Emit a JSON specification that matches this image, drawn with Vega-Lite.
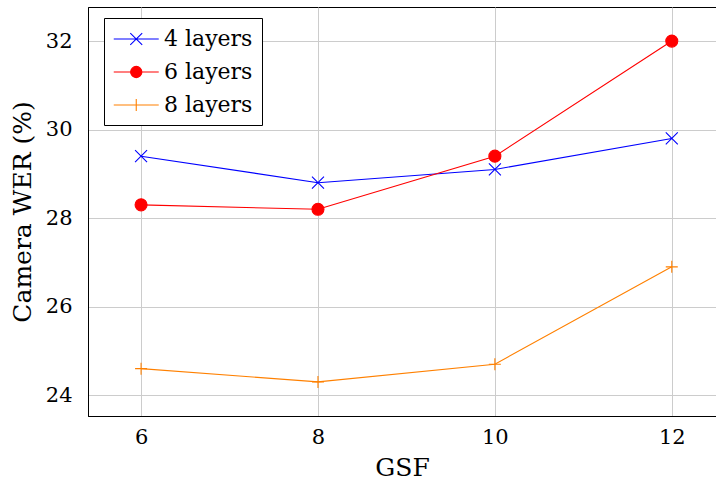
{
  "$schema": "https://vega.github.io/schema/vega-lite/v6.json",
  "width": 628,
  "height": 409,
  "autosize": {"type": "none"},
  "padding": {"left": 88, "top": 7, "right": 0, "bottom": 70},
  "background": "white",
  "config": {
    "view": {"stroke": "black", "strokeWidth": 1},
    "font": "DejaVu Serif",
    "axis": {
      "labelFont": "DejaVu Serif",
      "labelColor": "black",
      "labelFontSize": 21,
      "titleFont": "DejaVu Serif",
      "titleFontSize": 25,
      "titleFontWeight": "normal",
      "titleColor": "black",
      "domainColor": "black",
      "gridColor": "#cccccc",
      "gridWidth": 1,
      "gridOpacity": 1,
      "ticks": false
    },
    "legend": {
      "labelFont": "DejaVu Serif",
      "labelFontSize": 22,
      "labelColor": "black"
    }
  },
  "data": {
    "values": [
      {"series": "4 layers", "gsf": 6, "wer": 29.4},
      {"series": "4 layers", "gsf": 8, "wer": 28.8},
      {"series": "4 layers", "gsf": 10, "wer": 29.1},
      {"series": "4 layers", "gsf": 12, "wer": 29.8},
      {"series": "6 layers", "gsf": 6, "wer": 28.3},
      {"series": "6 layers", "gsf": 8, "wer": 28.2},
      {"series": "6 layers", "gsf": 10, "wer": 29.4},
      {"series": "6 layers", "gsf": 12, "wer": 32.0},
      {"series": "8 layers", "gsf": 6, "wer": 24.6},
      {"series": "8 layers", "gsf": 8, "wer": 24.3},
      {"series": "8 layers", "gsf": 10, "wer": 24.7},
      {"series": "8 layers", "gsf": 12, "wer": 26.9}
    ]
  },
  "encoding": {
    "x": {
      "field": "gsf",
      "type": "quantitative",
      "scale": {"domain": [5.4, 12.5], "nice": false, "zero": false},
      "axis": {"values": [6, 8, 10, 12], "title": "GSF", "labelPadding": 10, "titlePadding": 8, "grid": true}
    },
    "y": {
      "field": "wer",
      "type": "quantitative",
      "scale": {"domain": [23.53, 32.77], "nice": false, "zero": false},
      "axis": {"values": [24, 26, 28, 30, 32], "title": "Camera WER (%)", "labelPadding": 16, "titlePadding": 10, "grid": true}
    }
  },
  "layer": [
    {
      "mark": {"type": "line", "strokeWidth": 1.1},
      "encoding": {
        "color": {
          "field": "series", "type": "nominal",
          "scale": {"domain": ["4 layers", "6 layers", "8 layers"], "range": ["#0000ff", "#ff0000", "#ff8000"]},
          "legend": null
        }
      }
    },
    {
      "mark": {"type": "point", "filled": false, "size": 144, "strokeWidth": 1.1, "opacity": 1},
      "encoding": {
        "color": {
          "field": "series", "type": "nominal",
          "scale": {"domain": ["4 layers", "6 layers", "8 layers"], "range": ["#0000ff", "#ff0000", "#ff8000"]},
          "legend": null
        },
        "shape": {
          "field": "series", "type": "nominal",
          "scale": {"domain": ["4 layers", "6 layers", "8 layers"], "range": ["M-1,-1L1,1M-1,1L1,-1", "circle", "M-1,0H1M0,-1V1"]},
          "legend": null
        },
        "fill": {
          "field": "series", "type": "nominal",
          "scale": {"domain": ["4 layers", "6 layers", "8 layers"], "range": ["transparent", "#ff0000", "transparent"]},
          "legend": null
        }
      }
    },
    {
      "transform": [{"filter": "datum.series == 'none'"}],
      "mark": {"type": "point", "size": 506, "strokeWidth": 1.1, "opacity": 1},
      "encoding": {
        "stroke": {
          "field": "series", "type": "nominal",
          "scale": {"domain": ["4 layers", "6 layers", "8 layers"], "range": ["#0000ff", "#ff0000", "#ff8000"]},
          "legend": {
            "title": null,
            "orient": "none",
            "legendX": 16,
            "legendY": 11,
            "strokeColor": "black",
            "fillColor": "white",
            "padding": 9,
            "labelOffset": 27,
            "rowPadding": 10,
            "symbolStrokeWidth": 1.1,
            "symbolSize": 506
          }
        },
        "fill": {
          "field": "series", "type": "nominal",
          "scale": {"domain": ["4 layers", "6 layers", "8 layers"], "range": ["transparent", "#ff0000", "transparent"]},
          "legend": {
            "title": null,
            "orient": "none",
            "legendX": 16,
            "legendY": 11,
            "strokeColor": "black",
            "fillColor": "white",
            "padding": 9,
            "labelOffset": 27,
            "rowPadding": 10,
            "symbolStrokeWidth": 1.1,
            "symbolSize": 506
          }
        },
        "shape": {
          "field": "series", "type": "nominal",
          "scale": {"domain": ["4 layers", "6 layers", "8 layers"], "range": [
            "M-1,0H3M0.47,-0.53L1.53,0.53M0.47,0.53L1.53,-0.53",
            "M-1,0H3M0.5,0A0.5,0.5 0 1,0 1.5,0A0.5,0.5 0 1,0 0.5,0Z",
            "M-1,0H3M1,-0.53V0.53"
          ]},
          "legend": {
            "title": null,
            "orient": "none",
            "legendX": 16,
            "legendY": 11,
            "strokeColor": "black",
            "fillColor": "white",
            "padding": 9,
            "labelOffset": 27,
            "rowPadding": 10,
            "symbolStrokeWidth": 1.1,
            "symbolSize": 506
          }
        }
      }
    }
  ],
  "resolve": {"scale": {"shape": "independent", "fill": "independent", "stroke": "independent"}}
}
